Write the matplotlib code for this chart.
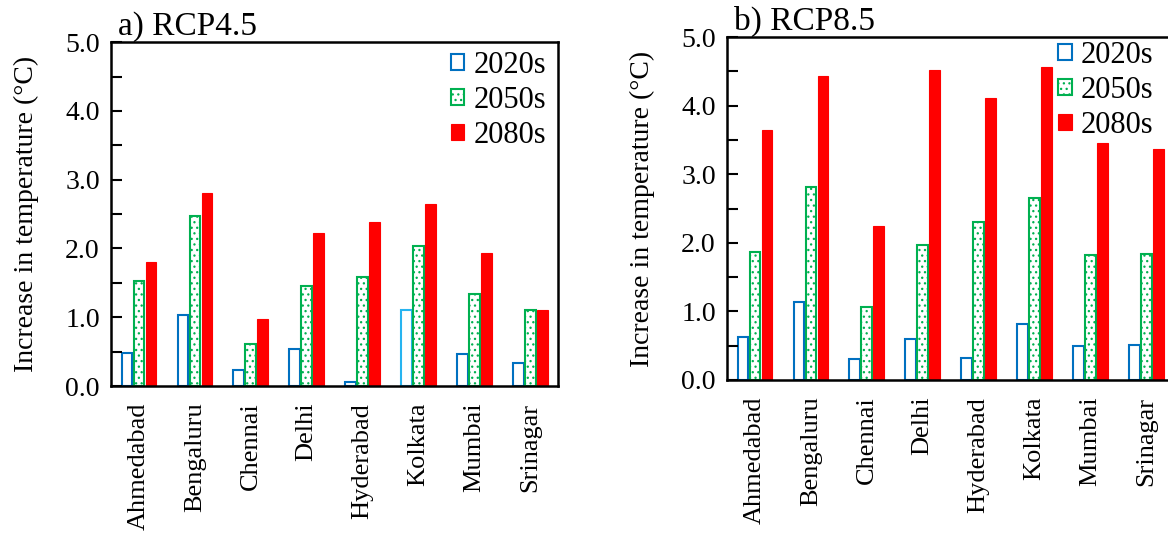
import numpy as np
import matplotlib.pyplot as plt
from matplotlib.ticker import MultipleLocator

plt.rcParams['font.family'] = ['Liberation Serif', 'DejaVu Serif']
plt.rcParams['hatch.linewidth'] = 0.9

cities = ['Ahmedabad', 'Bengaluru', 'Chennai', 'Delhi',
          'Hyderabad', 'Kolkata', 'Mumbai', 'Srinagar']
periods = ['2020s', '2050s', '2080s']

# temperature increase (deg C), RCP4.5
rcp45_2020s = [0.48, 1.03, 0.23, 0.54, 0.06, 1.10, 0.47, 0.34]
rcp45_2050s = [1.53, 2.47, 0.61, 1.45, 1.58, 2.03, 1.34, 1.10]
rcp45_2080s = [1.81, 2.80, 0.97, 2.22, 2.38, 2.65, 1.93, 1.11]

# temperature increase (deg C), RCP8.5
rcp85_2020s = [0.63, 1.14, 0.30, 0.60, 0.32, 0.82, 0.49, 0.51]
rcp85_2050s = [1.86, 2.81, 1.06, 1.97, 2.31, 2.65, 1.83, 1.84]
rcp85_2080s = [3.65, 4.44, 2.24, 4.52, 4.11, 4.57, 3.46, 3.37]

blue = '#0070C0'
green = '#00B050'
red = '#FF0000'

fig = plt.figure(figsize=(11.68, 5.45), dpi=100)
ax_a = fig.add_axes([0.095, 0.2917, 0.383, 0.631])
ax_b = fig.add_axes([0.6224, 0.3028, 0.383, 0.629])

x = np.arange(len(cities))
w = 0.19
off = 0.215
leg_kw = dict(loc='upper right', frameon=False, fontsize=22, handlelength=0.45,
              handleheight=0.45, handletextpad=0.3, labelspacing=0.2,
              borderaxespad=0.0)


def draw(ax, v20, v50, v80, title, cyan_idx=None):
    edge20 = [blue] * len(cities)
    if cyan_idx is not None:
        edge20[cyan_idx] = '#27B4F0'
    ax.bar(x - off, v20, w, facecolor='white', edgecolor=edge20, lw=1.5, label=periods[0])
    ax.bar(x, v50, w, facecolor='white', edgecolor=green, hatch='...', lw=1.5, label=periods[1])
    ax.bar(x + off, v80, w, facecolor=red, edgecolor=red, lw=0.8, label=periods[2])
    ax.set_xlim(-0.5, 7.5)
    ax.set_ylim(0, 5)
    ax.yaxis.set_major_locator(MultipleLocator(1.0))
    ax.yaxis.set_minor_locator(MultipleLocator(0.5))
    ax.yaxis.set_major_formatter(lambda v, p: '%.1f' % v)
    ax.tick_params(axis='y', which='both', direction='in', length=8, width=1.5,
                   labelsize=20, pad=8)
    ax.set_xticks(x)
    ax.set_xticklabels(cities, rotation=90, fontsize=19)
    ax.tick_params(axis='x', length=0, pad=12)
    for s in ax.spines.values():
        s.set_linewidth(1.8)
    ax.set_ylabel('Increase in temperature (°C)', fontsize=20, labelpad=19)
    ax.text(0.015, 1.0, title, transform=ax.transAxes, fontsize=24,
            ha='left', va='bottom')


draw(ax_a, rcp45_2020s, rcp45_2050s, rcp45_2080s, 'a) RCP4.5', cyan_idx=5)
draw(ax_b, rcp85_2020s, rcp85_2050s, rcp85_2080s, 'b) RCP8.5')
ax_a.legend(bbox_to_anchor=(1.0, 1.01), **leg_kw)
ax_b.legend(bbox_to_anchor=(0.981, 1.025), **leg_kw)

fig.savefig('out.png', dpi=100)
